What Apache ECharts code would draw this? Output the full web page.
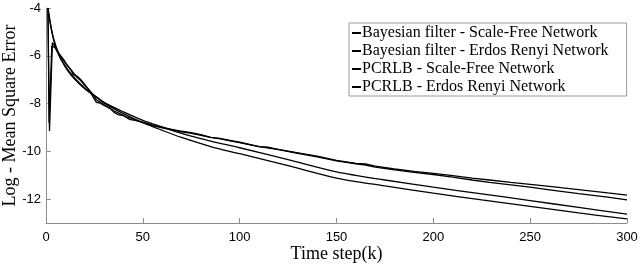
<!DOCTYPE html>
<html>
<head>
<meta charset="utf-8">
<script src="https://cdn.jsdelivr.net/npm/echarts@6/dist/echarts.min.js"></script>
<style>html,body{margin:0;padding:0;background:#fff}#c{width:640px;height:265px}</style>
</head>
<body>
<div id="c"></div>
<script>
var seriesNames = ['Bayesian filter - Scale-Free Network','Bayesian filter - Erdos Renyi Network','PCRLB - Scale-Free Network','PCRLB - Erdos Renyi Network'];
var xTicks = [0,50,100,150,200,250,300];
var yTicks = [-12,-10,-8,-6,-4];

var bayesSF = [[1,-4.1],[1.8,-9.15],[3.3,-5.45],[4.5,-5.6],[6,-5.8],[7,-5.95],[9,-6.15],[11,-6.4],[13,-6.6],[14,-6.78],[16,-6.85],[18,-7.0],[20,-7.2],[22,-7.42],[24,-7.68],[26,-7.95],[28,-7.98],[30,-8.08],[33,-8.2],[35,-8.36],[37,-8.46],[40,-8.5],[43,-8.66],[46,-8.7],[50,-8.78],[55,-8.9],[60,-9.0],[65,-9.08],[70,-9.16],[75,-9.22],[80,-9.3],[85,-9.42],[90,-9.46],[95,-9.54],[100,-9.62],[110,-9.8],[115,-9.83],[120,-9.92],[130,-10.06],[140,-10.2],[150,-10.38],[160,-10.5],[165,-10.53],[170,-10.62],[180,-10.74],[190,-10.84],[200,-10.92],[210,-11.02],[220,-11.12],[229,-11.2],[240,-11.3],[250,-11.38],[260,-11.47],[275,-11.6],[290,-11.74],[300,-11.83]];
var bayesER = [[1,-4.0],[1.6,-8.8],[3,-5.6],[4.5,-5.65],[6,-5.85],[8,-6.05],[10,-6.3],[12,-6.5],[14,-6.7],[16,-6.9],[18,-7.05],[20,-7.25],[22,-7.4],[24,-7.6],[26,-7.85],[28,-7.95],[30,-8.05],[32,-8.15],[35,-8.3],[38,-8.42],[41,-8.55],[44,-8.62],[47,-8.72],[50,-8.8],[55,-8.92],[60,-9.02],[65,-9.1],[70,-9.18],[75,-9.25],[80,-9.33],[85,-9.42],[90,-9.48],[95,-9.56],[100,-9.64],[110,-9.8],[115,-9.86],[120,-9.93],[130,-10.08],[140,-10.23],[150,-10.4],[160,-10.52],[165,-10.58],[170,-10.66],[180,-10.78],[190,-10.88],[200,-10.97],[210,-11.08],[220,-11.2],[229,-11.3],[240,-11.4],[250,-11.5],[260,-11.61],[275,-11.77],[290,-11.92],[300,-12.03]];
var pcrlbSF = [[1,-4.0],[2,-4.5],[3,-4.95],[4,-5.3],[6,-5.8],[8,-6.15],[11,-6.55],[15,-6.95],[20,-7.35],[25,-7.65],[30,-7.95],[40,-8.35],[50,-8.7],[60,-8.98],[70,-9.25],[85,-9.57],[100,-9.85],[125,-10.35],[150,-10.86],[175,-11.2],[200,-11.5],[225,-11.78],[250,-12.06],[275,-12.35],[300,-12.63]];
var pcrlbER = [[1,-4.0],[2,-4.55],[3,-5.0],[4,-5.35],[6,-5.85],[8,-6.2],[11,-6.6],[15,-7.0],[20,-7.38],[25,-7.68],[30,-7.98],[40,-8.42],[50,-8.8],[60,-9.12],[70,-9.42],[85,-9.8],[100,-10.1],[125,-10.6],[150,-11.12],[175,-11.45],[200,-11.75],[225,-12.03],[250,-12.3],[275,-12.58],[300,-12.83]];

var seriesData = [bayesSF, bayesER, pcrlbSF, pcrlbER];
var chart = echarts.init(document.getElementById('c'), null, {renderer:'canvas'});
var axisColor = '#8c8c8c';
chart.setOption({
  animation: false,
  backgroundColor: '#fff',
  grid: {left: 46, right: 13, top: 8, bottom: 42, containLabel: false, outerBoundsMode: 'none'},
  legend: {
    orient: 'vertical', left: 349, top: 23,
    data: seriesNames,
    backgroundColor: '#fff', borderColor: '#9a9a9a', borderWidth: 1,
    padding: [1, 18, 0, 3], itemGap: 0, itemWidth: 9, itemHeight: 2,
    icon: 'rect',
    textStyle: {fontFamily: 'Liberation Serif', fontSize: 16, lineHeight: 18, color: '#000', padding: [0,0,0,-4]}
  },
  xAxis: {
    type: 'value', min: 0, max: 300, interval: 50,
    name: 'Time step(k)', nameLocation: 'middle', nameGap: 22, nameMoveOverlap: false,
    nameTextStyle: {fontFamily: 'Liberation Serif', fontSize: 18, color: '#000'},
    axisLine: {show: true, lineStyle: {color: axisColor, width: 1}},
    axisTick: {show: true, inside: true, length: 5, lineStyle: {color: axisColor}, customValues: xTicks},
    axisLabel: {fontFamily: 'Liberation Sans', fontSize: 13, color: '#000', margin: 8, customValues: xTicks},
    splitLine: {show: false}
  },
  yAxis: {
    type: 'value', min: -13, max: -4,
    name: 'Log - Mean Square Error', nameLocation: 'middle', nameGap: 27, nameMoveOverlap: false,
    nameTextStyle: {fontFamily: 'Liberation Serif', fontSize: 18, color: '#000'},
    axisLine: {show: true, lineStyle: {color: axisColor, width: 1}},
    axisTick: {show: true, inside: true, length: 5, lineStyle: {color: axisColor}, customValues: yTicks},
    axisLabel: {fontFamily: 'Liberation Sans', fontSize: 13, color: '#000', margin: 5, customValues: yTicks},
    splitLine: {show: false}
  },
  series: seriesNames.map(function(n, i){
    return {
      name: n, type: 'line', data: seriesData[i], showSymbol: false, symbol: 'none',
      smooth: i >= 2 ? 0.3 : false,
      lineStyle: {color: '#000', width: 1.3},
      itemStyle: {color: '#000'}
    };
  })
});
</script>
</body>
</html>
